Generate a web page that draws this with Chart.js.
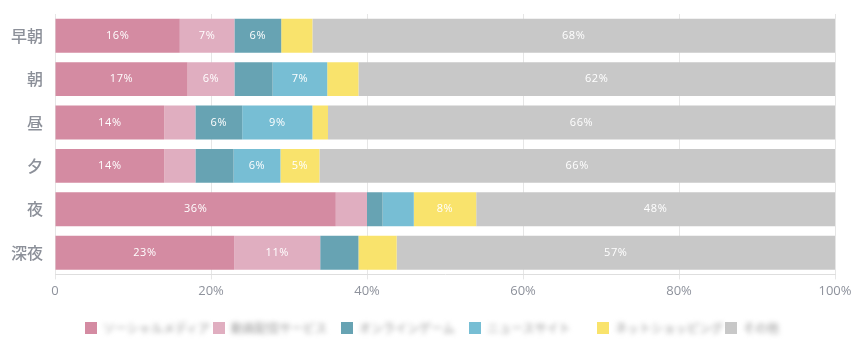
<!DOCTYPE html>
<html lang="ja">
<head>
<meta charset="utf-8">
<script src="https://cdn.jsdelivr.net/npm/chart.js@4/dist/chart.umd.min.js"></script>
<style>
  html, body { margin: 0; padding: 0; background: #fff; }
  .wrap { position: relative; width: 860px; height: 343px; }
  .graph { position: absolute; left: 0; top: 0; width: 860px; height: 310px; }
  .legend { position: absolute; left: 85px; top: 319px; display: flex; font-family: "Noto Sans CJK JP", sans-serif; font-size: 12px; color: #999; }
  .legend span.item { display: flex; align-items: center; width: 128px; }
  .legend i { display: inline-block; width: 12px; height: 12px; margin-right: 6px; flex: none; }
  .legend em { font-style: normal; filter: blur(2.5px); white-space: nowrap; }
</style>
</head>
<body>
<div class="wrap">
  <div class="graph"><canvas id="graph"></canvas></div>
  <div class="legend" id="legend"></div>
</div>
<script>
let time_of_day = ["早朝", "朝", "昼", "夕", "夜", "深夜"];

let sns = [16, 17, 14, 14, 36, 23];
let video = [7, 6, 4, 4, 4, 11];
let game = [6, 4.9, 6, 4.9, 2, 4.9];
let news = [0, 7, 9, 6, 4, 0];
let shopping = [4, 4, 2, 5, 8, 4.9];
let other = [68, 62, 66, 66.1, 48, 57];

let x_ticks = [0, 20, 40, 60, 80, 100];

const series = [
  { label: "ソーシャルメディア", data: sns, color: "rgb(212, 139, 162)" },
  { label: "動画配信サービス", data: video, color: "rgb(224, 174, 192)" },
  { label: "オンラインゲーム", data: game, color: "rgb(103, 163, 179)" },
  { label: "ニュースサイト", data: news, color: "rgb(119, 190, 212)" },
  { label: "ネットショッピング", data: shopping, color: "rgb(249, 227, 108)" },
  { label: "その他", data: other, color: "rgb(200, 200, 200)" },
];

// percentage text in the middle of each segment (visible part only)
const segmentLabels = {
  id: "segmentLabels",
  afterDatasetsDraw(chart) {
    const ctx = chart.ctx;
    const area = chart.chartArea;
    ctx.save();
    ctx.fillStyle = "#fff";
    ctx.font = "11px 'Open Sans', sans-serif";
    ctx.letterSpacing = "0.6px";
    ctx.textAlign = "center";
    ctx.textBaseline = "middle";
    chart.data.datasets.forEach((ds, i) => {
      chart.getDatasetMeta(i).data.forEach((bar, j) => {
        const v = ds.data[j];
        if (v < 5) return;
        const left = Math.max(Math.min(bar.base, bar.x), area.left);
        const right = Math.min(Math.max(bar.base, bar.x), area.right);
        ctx.fillText(Math.round(v) + "%", (left + right) / 2, bar.y);
      });
    });
    ctx.restore();
  },
};

const chartInit = () => {
  return new Chart(document.getElementById("graph").getContext("2d"), {
    type: "bar",
    data: {
      labels: time_of_day,
      datasets: series.map((s) => ({
        label: s.label,
        data: s.data,
        backgroundColor: s.color,
        borderWidth: 0,
        barPercentage: 1,
        categoryPercentage: 0.78,
      })),
    },
    options: {
      indexAxis: "y",
      animation: false,
      responsive: true,
      maintainAspectRatio: false,
      layout: { padding: { top: 14, right: 25, bottom: 7, left: 0 } },
      plugins: {
        legend: { display: false },
        tooltip: { enabled: false },
      },
      scales: {
        x: {
          stacked: true,
          min: 0,
          max: 100,
          afterBuildTicks: (axis) => {
            axis.ticks = x_ticks.map((v) => ({ value: v }));
          },
          grid: { color: "#e6e6e6", drawTicks: true, tickLength: 5 },
          border: { color: "#dedede" },
          ticks: {
            padding: 4,
            color: "#8e929c",
            font: { size: 13, family: "'Open Sans', sans-serif" },
            callback: (v) => (v === 0 ? "0" : v + "%"),
          },
        },
        y: {
          stacked: true,
          afterFit: (axis) => {
            axis.width = 55;
            axis.paddingTop = 0;
            axis.paddingBottom = 0;
          },
          grid: { display: false, drawTicks: false },
          border: { display: false },
          ticks: {
            padding: 12,
            color: "#8c9099",
            font: { size: 16, weight: "500", family: "'Noto Sans CJK JP', sans-serif" },
          },
        },
      },
    },
    plugins: [segmentLabels],
  });
};

let usageChart = chartInit();

// legend row under the chart
const legendEl = document.getElementById("legend");
series.forEach((s) => {
  const item = document.createElement("span");
  item.className = "item";
  item.innerHTML = '<i style="background:' + s.color + '"></i><em>' + s.label + "</em>";
  legendEl.appendChild(item);
});
</script>
</body>
</html>
